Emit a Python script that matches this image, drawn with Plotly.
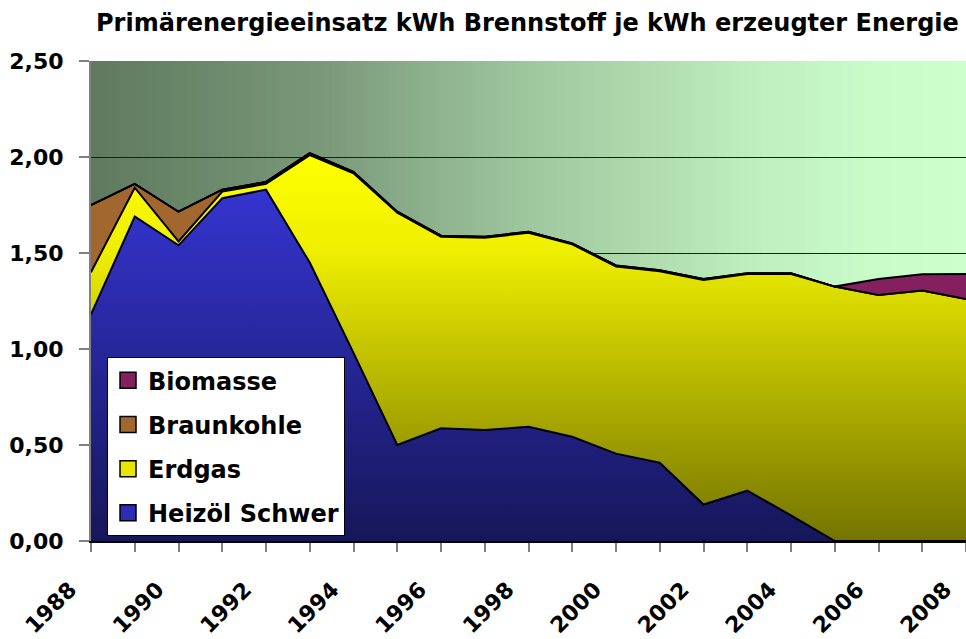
import plotly.graph_objects as go

years = list(range(1988, 2009))
heizoel = [1.18, 1.69, 1.54, 1.785, 1.83, 1.45, 0.98, 0.50, 0.587, 0.578, 0.595,
           0.543, 0.455, 0.408, 0.19, 0.262, 0.134, 0.0, 0.0, 0.0, 0.0]
erdgas = [0.22, 0.15, 0.02, 0.035, 0.03, 0.56, 0.935, 1.21, 0.998, 1.002, 1.01,
          1.002, 0.975, 0.997, 1.17, 1.128, 1.256, 1.325, 1.281, 1.304, 1.26]
braunkohle = [0.35, 0.02, 0.155, 0.01, 0.01, 0.01, 0.008, 0.005, 0.005, 0.005, 0.005,
              0.005, 0.005, 0.005, 0.005, 0.005, 0.005, 0.0, 0.0, 0.0, 0.0]
biomasse = [0.0] * 18 + [0.084, 0.085, 0.13]

tick_years = list(range(1988, 2009, 2))
tick_labels = [str(y) for y in tick_years]
y_ticks = [0, 0.5, 1.0, 1.5, 2.0, 2.5]

FONT = "DejaVu Sans, Liberation Sans, Arial, sans-serif"

fig = go.Figure()

# background horizontal gradient of plot area
stops = [(0.0, (95, 122, 95)), (0.25, (120, 150, 120)), (0.5, (158, 199, 158)),
         (0.75, (190, 237, 190)), (0.9, (202, 252, 202)), (1.0, (204, 255, 204))]

def interp(f):
    for (f0, c0), (f1, c1) in zip(stops[:-1], stops[1:]):
        if f0 <= f <= f1:
            t = (f - f0) / (f1 - f0)
            return "rgb(%d,%d,%d)" % tuple(round(a + (b - a) * t) for a, b in zip(c0, c1))
    return "rgb(204,255,204)"

N = 120
for i in range(N):
    fig.add_shape(type="rect", xref="paper", yref="paper",
                  x0=i / N, x1=(i + 1) / N + 0.002, y0=0, y1=1,
                  fillcolor=interp((i + 0.5) / N), line=dict(width=0), layer="below")

line = dict(color="black", width=2)
fig.add_trace(go.Scatter(x=years, y=heizoel, stackgroup="s", mode="lines", line=line,
                         name="Heizöl Schwer", showlegend=False,
                         fillgradient=dict(type="vertical", start=0, stop=1.85,
                                           colorscale=[[0, "#16165a"], [1, "#3535d2"]])))
fig.add_trace(go.Scatter(x=years, y=erdgas, stackgroup="s", mode="lines", line=line,
                         name="Erdgas", showlegend=False,
                         fillgradient=dict(type="vertical", start=0, stop=2.0,
                                           colorscale=[[0, "#747400"], [0.5, "#c4c400"],
                                                       [0.75, "#eeee00"], [1, "#ffff00"]])))
fig.add_trace(go.Scatter(x=years, y=braunkohle, stackgroup="s", mode="lines", line=line,
                         name="Braunkohle", showlegend=False, fillcolor="#a2672f"))
fig.add_trace(go.Scatter(x=years, y=biomasse, stackgroup="s", mode="lines", line=line,
                         name="Biomasse", showlegend=False, fillcolor="#84205f"))

# legend entries
for name, col in [("Biomasse", "#84205f"), ("Braunkohle", "#a2672f"),
                  ("Erdgas", "#e6e600"), ("Heizöl Schwer", "#2c2cb4")]:
    fig.add_trace(go.Scatter(x=[None], y=[None], mode="markers", name=name,
                             legendgroup=name,
                             marker=dict(symbol="square", size=16, color=col,
                                         line=dict(color="black", width=1.5))))

fig.update_layout(
    width=966, height=639,
    margin=dict(l=91, r=0, t=61, b=98, autoexpand=False),
    paper_bgcolor="white", plot_bgcolor="#5f7a5f",
    separators=",.",
    title=dict(text="Primärenergieeinsatz kWh Brennstoff je kWh erzeugter Energie",
               x=0.546, xanchor="center", y=0.964, yanchor="middle",
               font=dict(family=FONT, size=24, color="black", weight="bold")),
    legend=dict(x=0.0183, y=0.383, xanchor="left", yanchor="top",
                bgcolor="white", bordercolor="black", borderwidth=1,
                traceorder="grouped", tracegroupgap=10, itemwidth=30,
                font=dict(family=FONT, size=24, color="black", weight="bold")),
    showlegend=True,
)
fig.update_xaxes(range=[1988, 2008], tickvals=tick_years, ticktext=tick_labels,
                 tickangle=-45, ticks="outside", ticklen=9, tickcolor="#808080",
                 tickwidth=1.5, automargin=False, ticklabeloverflow="allow",
                 ticklabelshift=-21, ticklabelstandoff=16,
                 minor=dict(dtick=1, tick0=1988, ticks="outside", ticklen=9,
                            tickcolor="#808080", tickwidth=1.5, showgrid=False),
                 showgrid=False, zeroline=False, showline=True, linecolor="black",
                 linewidth=2,
                 tickfont=dict(family=FONT, size=22, color="black", weight="bold"))
fig.update_yaxes(range=[0, 2.5], tickvals=y_ticks, tickformat=".2f",
                 ticks="outside", ticklen=10, tickcolor="#808080", tickwidth=1.5,
                 automargin=False, ticklabelstandoff=11, ticklabeloverflow="allow",
                 showgrid=True, gridcolor="#1e1e1e", gridwidth=1, zeroline=False,
                 showline=True, linecolor="#808080", linewidth=2,
                 tickfont=dict(family=FONT, size=22, color="black", weight="bold"))

fig.write_html("out.html", config={"displayModeBar": False},
               post_script="document.body.style.margin='0';"
                           "document.body.style.overflow='hidden';")
